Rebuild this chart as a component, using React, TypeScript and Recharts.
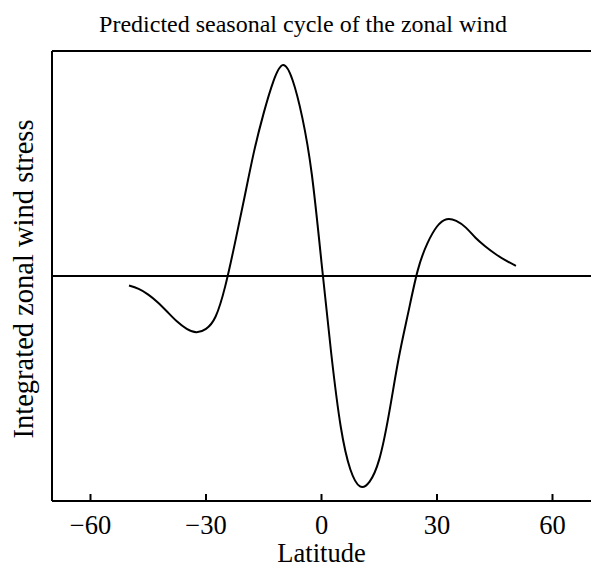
import {
  LineChart,
  Line,
  XAxis,
  YAxis,
  ReferenceLine,
} from "recharts";

const latitude = [
  -50, -47.5, -45, -42.5, -40, -37.5, -35, -32.5, -30, -27.5, -25, -22.5, -20,
  -17.5, -15, -12.5, -10, -7.5, -5, -2.5, 0, 2.5, 5, 7.5, 10, 12.5, 15, 17.5,
  20, 22.5, 25, 27.5, 30, 32.5, 35, 37.5, 40, 42.5, 45, 47.5, 50.5,
];
const windStress = [
  -0.085, -0.115, -0.165, -0.235, -0.32, -0.405, -0.47, -0.5, -0.47, -0.36,
  -0.09, 0.29, 0.7, 1.11, 1.45, 1.73, 1.875, 1.74, 1.41, 0.9, 0.12, -0.68,
  -1.34, -1.72, -1.87, -1.827, -1.63, -1.23, -0.74, -0.33, 0.05, 0.29, 0.44,
  0.505, 0.49, 0.43, 0.34, 0.265, 0.2, 0.145, 0.09,
];
const xTicks = [-60, -30, 0, 30, 60];
const yTicks = [-1, 0, 1];

const data = latitude.map((lat, i) => ({ lat, stress: windStress[i] }));

const font = "'Liberation Serif', 'Times New Roman', serif";
const tickStyle = { fill: "#000", fontSize: 26.5, fontFamily: font };
const fmt = (v: number) => (v < 0 ? `\u2212${-v}` : `${v}`);
const axisStroke = { stroke: "#000", strokeWidth: 2 };

export default function App() {
  return (
    <div
      style={{
        position: "relative",
        width: 592,
        height: 567,
        overflow: "hidden",
        fontFamily: font,
        background: "#fff",
      }}
    >
      <style>{"body{margin:0}"}</style>
      <div
        style={{
          position: "absolute",
          top: 12,
          left: 0,
          width: 606,
          textAlign: "center",
          fontSize: 24,
          lineHeight: "24px",
          color: "#000",
          whiteSpace: "nowrap",
        }}
      >
        Predicted seasonal cycle of the zonal wind
      </div>
      <LineChart
        width={592}
        height={567}
        data={data}
        margin={{ top: 50, right: 0, bottom: 0, left: 0 }}
      >
        <XAxis
          dataKey="lat"
          type="number"
          domain={[-70, 70]}
          ticks={xTicks}
          allowDataOverflow
          height={66}
          tickFormatter={fmt}
          tickSize={-7}
          tickMargin={21}
          tick={tickStyle}
          axisLine={axisStroke}
          tickLine={axisStroke}
          label={{
            value: "Latitude",
            position: "insideBottom",
            offset: 5,
            fill: "#000",
            fontSize: 26.5,
            fontFamily: font,
          }}
        />
        <XAxis
          xAxisId="top"
          dataKey="lat"
          type="number"
          orientation="top"
          domain={[-70, 70]}
          ticks={xTicks}
          allowDataOverflow
          height={1}
          tick={false}
          tickSize={-6}
          axisLine={axisStroke}
          tickLine={axisStroke}
        />
        <YAxis
          type="number"
          domain={[-2, 2]}
          ticks={yTicks}
          width={52}
          tick={false}
          tickSize={-6}
          axisLine={axisStroke}
          tickLine={axisStroke}
          label={{
            value: "Integrated zonal wind stress",
            angle: -90,
            position: "center",
            dx: -3,
            dy: 3,
            fill: "#000",
            fontSize: 28.5,
            fontFamily: font,
          }}
        />
        <YAxis
          yAxisId="right"
          orientation="right"
          type="number"
          domain={[-2, 2]}
          ticks={yTicks}
          width={1}
          tick={false}
          tickSize={-4}
          axisLine={false}
          tickLine={axisStroke}
        />
        <ReferenceLine y={0} stroke="#000" strokeWidth={2} />
        <Line
          dataKey="stress"
          type="natural"
          stroke="#000"
          strokeWidth={2}
          dot={false}
          activeDot={false}
          isAnimationActive={false}
        />
      </LineChart>
    </div>
  );
}
